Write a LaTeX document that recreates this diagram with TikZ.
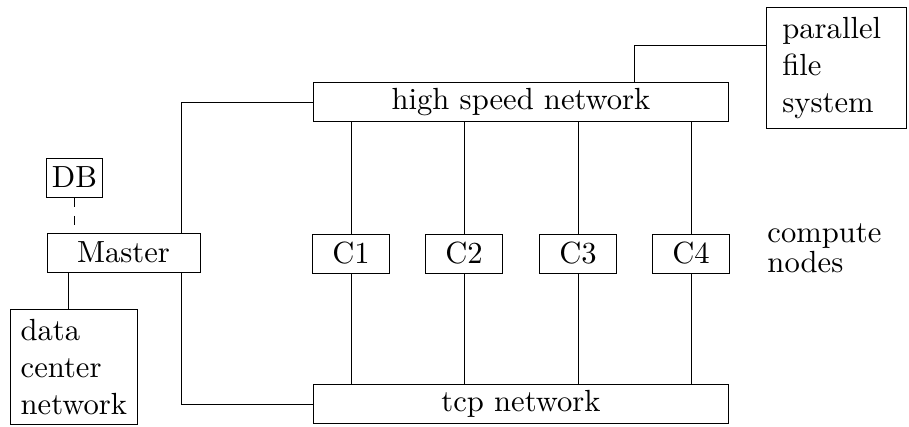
\documentclass[tikz,border=0pt]{standalone}
\usetikzlibrary{calc}
\begin{document}
\begin{tikzpicture}[
  x=0.3268pt, y=-0.3268pt,
  line width=0.32pt,
  box/.style={draw, inner sep=0pt, minimum height=12.75pt},
  wide/.style={box, minimum width=135.9pt},
  cnode/.style={box, minimum width=25.2pt},
  multibox/.style={draw, align=left, inner sep=3.33pt, anchor=north west},
]
\useasboundingbox (0,0) rectangle (909,426);

% networks
\node[wide] (hsn) at (521,102) {high speed network};
\node[wide] (tcp) at (521,404) {tcp network};

% compute nodes
\node[cnode] (C1) at (351,253.5) {C1};
\node[cnode] (C2) at (464,253.5) {C2};
\node[cnode] (C3) at (578,253.5) {C3};
\node[cnode] (C4) at (691,253.5) {C4};
\node[align=left, anchor=north west, inner sep=0pt] (cnlabel) at (767,223) {compute\\[-2pt]nodes};

% master side
\node[box, minimum width=50pt] (master) at (123.5,252.5) {Master};
\node[box, minimum width=18pt] (db) at (74.5,177.5) {DB};
\node[multibox] (dcn) at (10,309) {data\\center\\network};

% storage
\node[multibox, inner xsep=5.2pt, text width=35.3pt] (pfs) at (766,7) {parallel\\file\\system};

% helper coordinates for connector columns and rows
\coordinate (mx) at (181,0);
\coordinate (dx) at (68,0);
\coordinate (hx) at (634,0);
\coordinate (py) at (0,45);

% compute node links
\foreach \c in {C1,C2,C3,C4}{
  \draw (\c.north) -- (hsn.south -| \c.north);
  \draw (\c.south) -- (tcp.north -| \c.south);
}

% master links
\draw (master.north -| mx) |- (hsn.west);
\draw (master.south -| mx) |- (tcp.west);
\draw (master.south -| dx) -- (dcn.north -| dx);
\draw[dashed] (db.south) -- (master.north -| db.south);

% file system link
\draw (hsn.north -| hx) |- (pfs.west |- py);
\end{tikzpicture}
\end{document}
